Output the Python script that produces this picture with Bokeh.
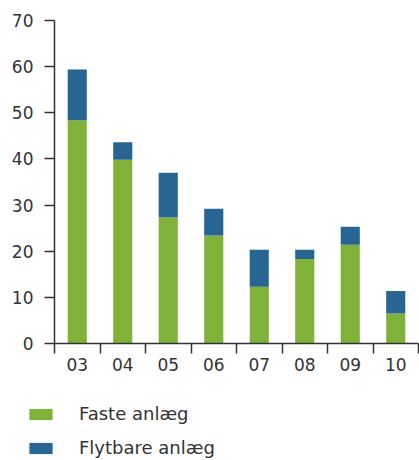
from bokeh.plotting import figure
from bokeh.models import ColumnDataSource, FixedTicker, Legend, LegendItem, Range1d
from bokeh.embed import file_html
from bokeh.resources import INLINE

years = ["03", "04", "05", "06", "07", "08", "09", "10"]
faste = [48.4, 39.8, 27.3, 23.4, 12.3, 18.3, 21.4, 6.5]
flytbare = [11.0, 3.8, 9.7, 5.8, 8.0, 2.0, 3.9, 4.9]
y_ticks = [0, 10, 20, 30, 40, 50, 60, 70]
series_names = ["Faste anlæg", "Flytbare anlæg"]
colors = ["#80b23a", "#276692"]

FONT = "DejaVu Sans"
TXT = "#333333"

W, H = 419, 460
# pixel layout of the plotting area (axes drawn inside the frame via fixed_location)
X0, X1 = 54, 418
Y0, Y1 = 343, 20
YMAX = y_ticks[-1]
n = len(years)
ux = (X1 - X0) / n
uy = (Y0 - Y1) / YMAX

xpos = [i + 0.5 for i in range(n)]
src = ColumnDataSource(dict(x=xpos, faste=faste, flytbare=flytbare))

p = figure(width=W, height=H,
           x_range=Range1d(-X0 / ux, n + (W - X1) / ux),
           y_range=Range1d(-(H - Y0) / uy, YMAX + Y1 / uy),
           output_backend="svg", toolbar_location=None,
           min_border=0)

rs = p.vbar_stack(["faste", "flytbare"], x="x", width=0.42, source=src,
                  color=colors, line_width=0)

p.outline_line_color = None
p.xgrid.grid_line_color = None
p.ygrid.grid_line_color = None
p.background_fill_color = None
p.border_fill_color = None

xa = p.xaxis[0]
xa.fixed_location = 0
xa.bounds = (0, n)
xa.ticker = FixedTicker(ticks=xpos, minor_ticks=list(range(n + 1)))
xa.major_label_overrides = {x: y for x, y in zip(xpos, years)}
xa.major_tick_out = 0
xa.major_tick_in = 0
xa.minor_tick_out = 10
xa.minor_tick_in = 0
xa.minor_tick_line_color = TXT
xa.minor_tick_line_width = 1.5
xa.axis_line_color = TXT
xa.axis_line_width = 1.5
xa.major_label_standoff = 4
xa.major_label_text_font = FONT
xa.major_label_text_font_size = "17px"
xa.major_label_text_color = TXT

ya = p.yaxis[0]
ya.fixed_location = 0
ya.bounds = (0, YMAX)
ya.ticker = FixedTicker(ticks=y_ticks)
ya.major_tick_out = 10
ya.major_tick_in = 0
ya.minor_tick_out = 0
ya.minor_tick_in = 0
ya.major_tick_line_color = TXT
ya.major_tick_line_width = 1.5
ya.axis_line_color = TXT
ya.axis_line_width = 1.5
ya.major_label_standoff = 11
ya.major_label_text_font = FONT
ya.major_label_text_font_size = "17px"
ya.major_label_text_color = TXT

legend = Legend(items=[LegendItem(label=series_names[i], renderers=[rs[i]]) for i in range(2)],
                location=(26, 2), orientation="vertical",
                glyph_width=29, glyph_height=14, label_height=14,
                label_standoff=24, spacing=13, padding=0, margin=0,
                border_line_color=None, background_fill_alpha=0,
                label_text_font=FONT, label_text_font_size="18px", label_text_color=TXT)
p.add_layout(legend, "center")

open("out.html", "w").write(file_html(p, INLINE))
